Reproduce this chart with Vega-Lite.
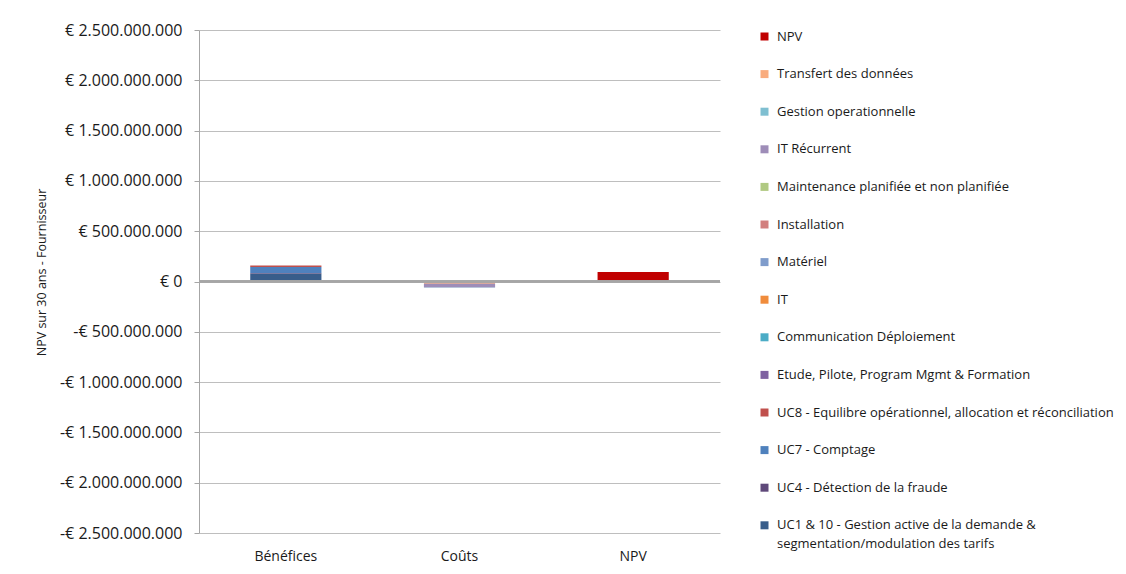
{
  "$schema": "https://vega.github.io/schema/vega-lite/v6.json",
  "width": 521,
  "height": 503,
  "autosize": {"type": "none"},
  "padding": {"left": 199, "top": 30, "right": 406, "bottom": 41},
  "background": "white",
  "config": {
    "font": "Open Sans",
    "view": {"stroke": null},
    "axis": {"labelColor": "#1a1a1a", "titleColor": "#1a1a1a"},
    "style": {"guide-label": {"lineHeight": 19}}
  },
  "data": {
    "values": [
      {"categorie": "Bénéfices", "serie": "UC1 & 10 - Gestion active de la demande & segmentation/modulation des tarifs", "valeur": 80000000},
      {"categorie": "Bénéfices", "serie": "UC4 - Détection de la fraude", "valeur": 5000000},
      {"categorie": "Bénéfices", "serie": "UC7 - Comptage", "valeur": 58000000},
      {"categorie": "Bénéfices", "serie": "UC8 - Equilibre opérationnel, allocation et réconciliation", "valeur": 15000000},
      {"categorie": "Coûts", "serie": "Etude, Pilote, Program Mgmt & Formation", "valeur": -3000000},
      {"categorie": "Coûts", "serie": "Communication Déploiement", "valeur": -2000000},
      {"categorie": "Coûts", "serie": "IT", "valeur": -14000000},
      {"categorie": "Coûts", "serie": "Matériel", "valeur": -2000000},
      {"categorie": "Coûts", "serie": "Installation", "valeur": -1000000},
      {"categorie": "Coûts", "serie": "Maintenance planifiée et non planifiée", "valeur": -1000000},
      {"categorie": "Coûts", "serie": "IT Récurrent", "valeur": -36000000},
      {"categorie": "Coûts", "serie": "Gestion operationnelle", "valeur": -3000000},
      {"categorie": "Coûts", "serie": "Transfert des données", "valeur": -1000000},
      {"categorie": "NPV", "serie": "NPV", "valeur": 95000000}
    ]
  },
  "layer": [
    {
      "transform": [
        {"calculate": "indexof(['NPV', 'Transfert des données', 'Gestion operationnelle', 'IT Récurrent', 'Maintenance planifiée et non planifiée', 'Installation', 'Matériel', 'IT', 'Communication Déploiement', 'Etude, Pilote, Program Mgmt & Formation', 'UC8 - Equilibre opérationnel, allocation et réconciliation', 'UC7 - Comptage', 'UC4 - Détection de la fraude', 'UC1 & 10 - Gestion active de la demande & segmentation/modulation des tarifs'], datum.serie)", "as": "ordre"}
      ],
      "mark": {"type": "bar"},
      "encoding": {
        "x": {
          "field": "categorie",
          "type": "nominal",
          "sort": ["Bénéfices", "Coûts", "NPV"],
          "scale": {"paddingInner": 0.59, "paddingOuter": 0.295},
          "axis": {
            "title": null,
            "labelAngle": 0,
            "labelFontSize": 14,
            "labelPadding": 16,
            "domain": false,
            "ticks": false
          }
        },
        "y": {
          "field": "valeur",
          "type": "quantitative",
          "stack": "zero",
          "scale": {"domain": [-2500000000, 2500000000], "nice": false},
          "axis": {
            "title": "NPV sur 30 ans - Fournisseur",
            "titleFontSize": 12.5,
            "titleFontWeight": "normal",
            "titleX": -151,
            "titleY": 242,
            "values": [-2500000000, -2000000000, -1500000000, -1000000000, -500000000, 0, 500000000, 1000000000, 1500000000, 2000000000, 2500000000],
            "labelExpr": "(datum.value < 0 ? '-' : '') + '€ ' + replace(format(abs(datum.value), ','), regexp(',', 'g'), '.')",
            "labelFontSize": 16,
            "labelPadding": 12,
            "grid": true,
            "gridColor": "#BEBEBE",
            "domainColor": "#A6A6A6",
            "tickColor": "#A6A6A6",
            "tickSize": 5
          }
        },
        "order": {"field": "ordre", "type": "quantitative", "sort": "descending"},
        "color": {
          "field": "serie",
          "type": "nominal",
          "scale": {
            "domain": [
              "NPV",
              "Transfert des données",
              "Gestion operationnelle",
              "IT Récurrent",
              "Maintenance planifiée et non planifiée",
              "Installation",
              "Matériel",
              "IT",
              "Communication Déploiement",
              "Etude, Pilote, Program Mgmt & Formation",
              "UC8 - Equilibre opérationnel, allocation et réconciliation",
              "UC7 - Comptage",
              "UC4 - Détection de la fraude",
              "UC1 & 10 - Gestion active de la demande & segmentation/modulation des tarifs"
            ],
            "range": ["#C00000", "#F9AC7E", "#7FBFD1", "#9E8DB8", "#B0C982", "#D27F7E", "#7F9CCB", "#F08C3C", "#4BACC6", "#7F62A1", "#C0504D", "#4F81BD", "#5F497A", "#385D8A"]
          },
          "legend": {
            "title": null,
            "orient": "none",
            "legendX": 559,
            "legendY": 0,
            "symbolType": "square",
            "symbolSize": 64,
            "symbolStrokeWidth": 0,
            "labelFontSize": 13,
            "labelColor": "#1a1a1a",
            "labelOffset": 6,
            "labelLimit": 400,
            "rowPadding": 23.6,
            "labelExpr": "datum.label == 'UC1 & 10 - Gestion active de la demande & segmentation/modulation des tarifs' ? ['UC1 & 10 - Gestion active de la demande &', 'segmentation/modulation des tarifs'] : datum.label"
          }
        }
      }
    },
    {
      "mark": {"type": "rule", "color": "#A6A6A6", "strokeWidth": 1.5},
      "encoding": {"y": {"datum": 0, "type": "quantitative"}}
    }
  ]
}
